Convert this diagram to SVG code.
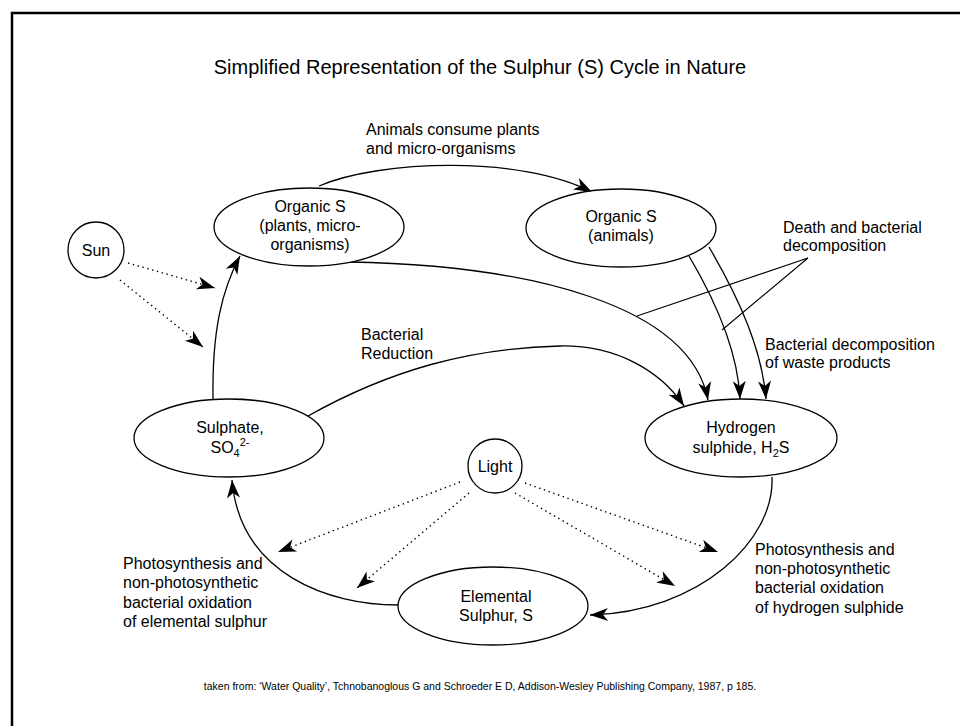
<svg xmlns="http://www.w3.org/2000/svg" width="960" height="726" viewBox="0 0 960 726">
<style>
text{font-family:"Liberation Sans",Arial,sans-serif;fill:#000}
.t{font-size:16px}
.c{text-anchor:middle}
.n{fill:#fff;stroke:#000;stroke-width:1.3}
.e{fill:none;stroke:#000;stroke-width:1.3}
.d{fill:none;stroke:#000;stroke-width:1.4;stroke-dasharray:1.4 3.6}
.l{fill:none;stroke:#000;stroke-width:1.1}
</style>
<defs>
<marker id="ah" markerUnits="userSpaceOnUse" viewBox="-19 -7 20 14" markerWidth="20" markerHeight="14" refX="0" refY="0" orient="auto">
<path d="M0,0 L-18,-6.5 L-13,0 L-18,6.5 Z" fill="#000"/>
</marker>
</defs>
<rect width="960" height="726" fill="#fff"/>
<path d="M12,726 V13 H960" fill="none" stroke="#000" stroke-width="2.5"/>
<text x="480" y="74" class="c" style="font-size:20px">Simplified Representation of the Sulphur (S) Cycle in Nature</text>

<g id="connectors">
<path class="e" d="M319,186 C380,160 520,155 592,192" marker-end="url(#ah)"/>
<path class="e" d="M348,262 C530,265 690,305 708,400" marker-end="url(#ah)"/>
<path class="e" d="M689,256 C715,300 738,350 740,399" marker-end="url(#ah)"/>
<path class="e" d="M709,247 C740,300 762,350 766,399" marker-end="url(#ah)"/>
<path class="e" d="M308,416 C390,370 470,348 560,346 C615,345 660,370 684,406" marker-end="url(#ah)"/>
<path class="e" d="M213,399 C212,330 222,290 240,256" marker-end="url(#ah)"/>
<path class="e" d="M772,477 C775,540 700,612 590,615" marker-end="url(#ah)"/>
<path class="e" d="M398,605 C330,605 240,575 232,480" marker-end="url(#ah)"/>
<path class="d" d="M128,263 L215,288" marker-end="url(#ah)"/>
<path class="d" d="M120,280 L203,347" marker-end="url(#ah)"/>
<path class="d" d="M460,482 L278,552" marker-end="url(#ah)"/>
<path class="d" d="M469,493 L357,588" marker-end="url(#ah)"/>
<path class="d" d="M525,483 L718,552" marker-end="url(#ah)"/>
<path class="d" d="M515,493 L675,586" marker-end="url(#ah)"/>
<path class="l" d="M637,316 L808,258 L722,330"/>
</g>

<g id="sun">
<circle class="n" cx="96" cy="250" r="28"/>
<text x="96" y="256" class="t c">Sun</text>
</g>
<g id="light">
<circle class="n" cx="495" cy="466" r="27"/>
<text x="495" y="472" class="t c">Light</text>
</g>
<g id="organic-plants">
<ellipse class="n" cx="309" cy="227" rx="95" ry="39"/>
<text x="310" y="212" class="t c">Organic S</text>
<text x="310" y="231" class="t c">(plants, micro-</text>
<text x="310" y="250" class="t c">organisms)</text>
</g>
<g id="organic-animals">
<ellipse class="n" cx="621" cy="228" rx="95" ry="39"/>
<text x="621" y="222" class="t c">Organic S</text>
<text x="621" y="241" class="t c">(animals)</text>
</g>
<g id="sulphate">
<ellipse class="n" cx="229" cy="438" rx="95" ry="39"/>
<text x="230" y="433" class="t c">Sulphate,</text>
<text x="230" y="453" class="t c">SO<tspan dy="4" style="font-size:11px">4</tspan><tspan dy="-11" style="font-size:11px">2-</tspan></text>
</g>
<g id="hydrogen-sulphide">
<ellipse class="n" cx="741" cy="438" rx="96" ry="39"/>
<text x="741" y="433" class="t c">Hydrogen</text>
<text x="741" y="453" class="t c">sulphide, H<tspan dy="4" style="font-size:11px">2</tspan><tspan dy="-4">S</tspan></text>
</g>
<g id="elemental-sulphur">
<ellipse class="n" cx="493" cy="606" rx="95" ry="39"/>
<text x="496" y="602" class="t c">Elemental</text>
<text x="496" y="621" class="t c">Sulphur, S</text>
</g>

<g id="labels">
<text x="366" y="135" class="t">Animals consume plants</text>
<text x="366" y="154" class="t">and micro-organisms</text>
<text x="783" y="233" class="t">Death and bacterial</text>
<text x="783" y="251" class="t">decomposition</text>
<text x="361" y="340" class="t">Bacterial</text>
<text x="361" y="359" class="t">Reduction</text>
<text x="765" y="350" class="t">Bacterial decomposition</text>
<text x="765" y="368" class="t">of waste products</text>
<text x="123" y="569" class="t">Photosynthesis and</text>
<text x="123" y="588" class="t">non-photosynthetic</text>
<text x="123" y="608" class="t">bacterial oxidation</text>
<text x="123" y="627" class="t">of elemental sulphur</text>
<text x="755" y="555" class="t">Photosynthesis and</text>
<text x="755" y="574" class="t">non-photosynthetic</text>
<text x="755" y="593" class="t">bacterial oxidation</text>
<text x="755" y="613" class="t">of hydrogen sulphide</text>
<text x="480" y="690" class="c" style="font-size:10.5px">taken from: ‘Water Quality’, Tchnobanoglous G and Schroeder E D, Addison-Wesley Publishing Company, 1987, p 185.</text>
</g>
</svg>
